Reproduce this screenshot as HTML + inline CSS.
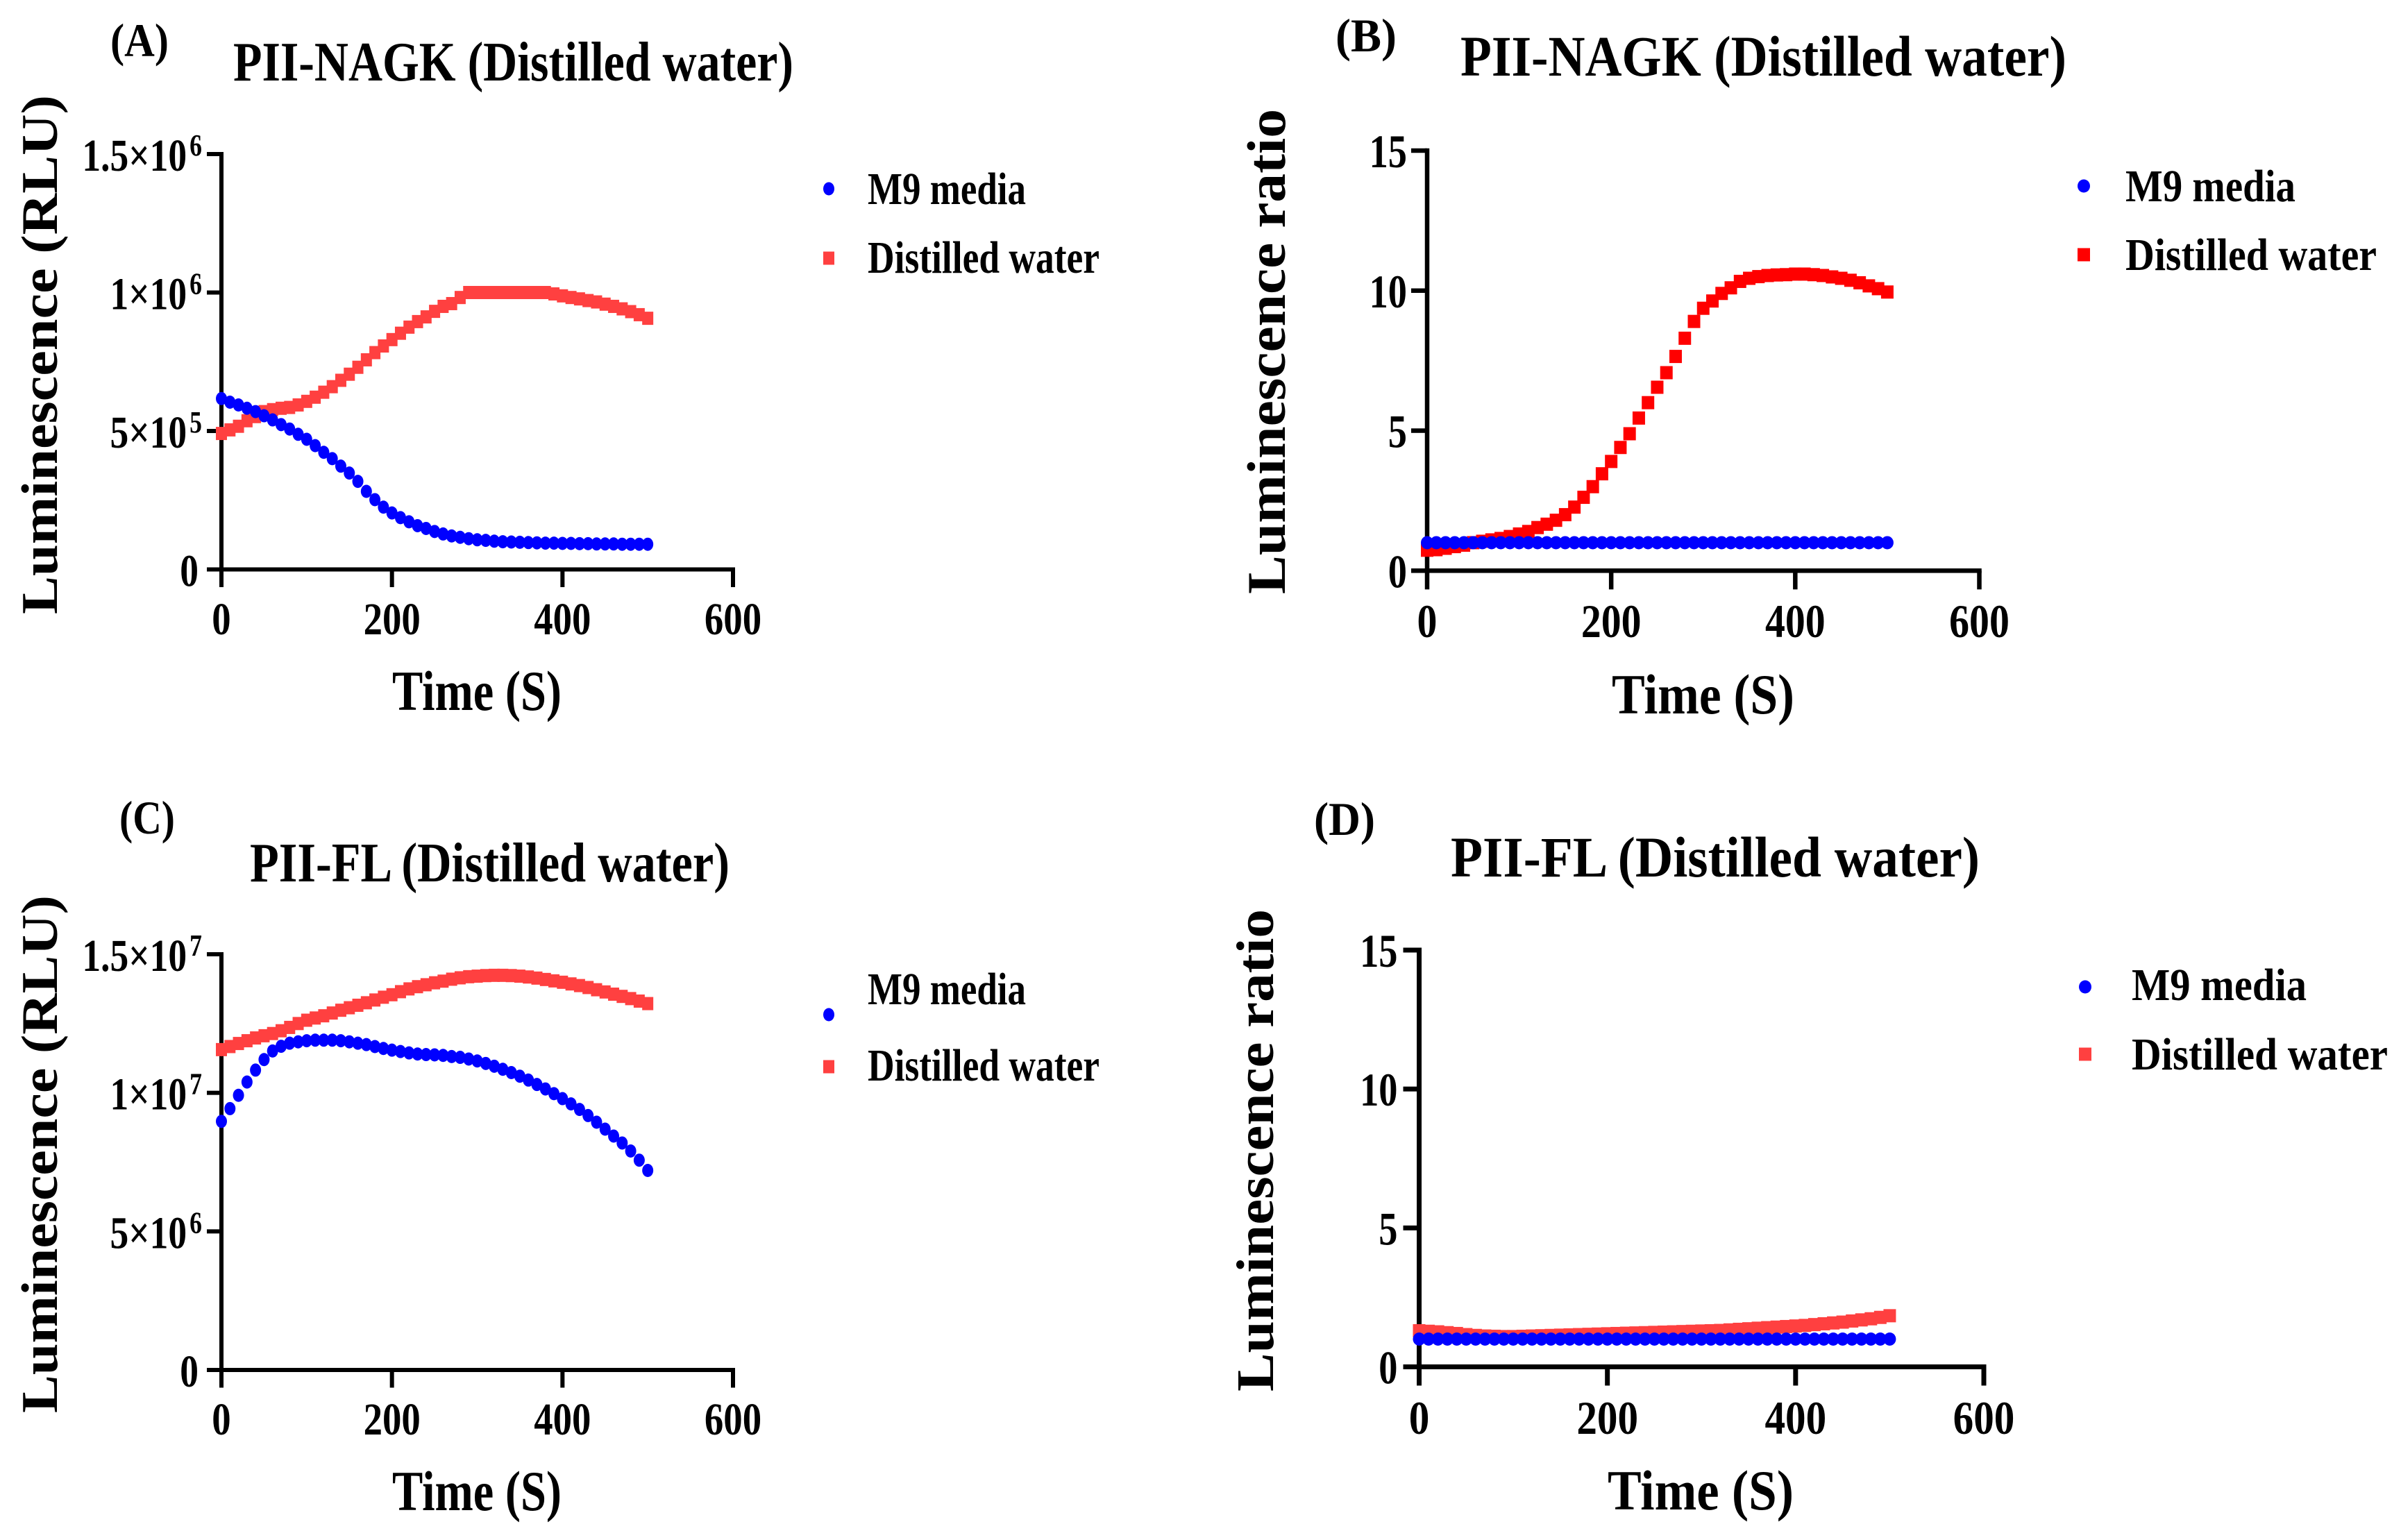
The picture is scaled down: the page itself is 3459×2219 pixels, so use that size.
<!DOCTYPE html>
<html lang="en">
<head>
<meta charset="utf-8">
<title>PII-NAGK and PII-FL luminescence in distilled water</title>
<style>
html,body{margin:0;padding:0;background:#fff;width:3459px;height:2219px;overflow:hidden}
svg{display:block}
text{font-family:"Liberation Serif",serif;font-weight:700;fill:#000}
</style>
</head>
<body>
<svg id="figure" xmlns="http://www.w3.org/2000/svg" width="3459" height="2219" viewBox="0 0 3459 2219">
<rect x="0" y="0" width="3459" height="2219" fill="#fff"/>

<text x="159" y="81" font-size="68" textLength="84" lengthAdjust="spacingAndGlyphs">(A)</text>
<text x="336" y="116" font-size="81" textLength="807" lengthAdjust="spacingAndGlyphs">PII-NAGK (Distilled water)</text>
<text transform="translate(82,885) rotate(-90)" font-size="74" textLength="748" lengthAdjust="spacingAndGlyphs">Luminescence (RLU)</text>
<text x="565" y="1023" font-size="82" textLength="244" lengthAdjust="spacingAndGlyphs">Time (S)</text>
<text x="1250" y="294" font-size="66" textLength="228" lengthAdjust="spacingAndGlyphs">M9 media</text>
<text x="1250" y="393" font-size="66" textLength="334" lengthAdjust="spacingAndGlyphs">Distilled water</text>

<text x="1924" y="74" font-size="68" textLength="88" lengthAdjust="spacingAndGlyphs">(B)</text>
<text x="2104" y="109" font-size="83" textLength="873" lengthAdjust="spacingAndGlyphs">PII-NAGK (Distilled water)</text>
<text transform="translate(1851,856) rotate(-90)" font-size="78" textLength="699" lengthAdjust="spacingAndGlyphs">Luminescence ratio</text>
<text x="2322" y="1028" font-size="82" textLength="263" lengthAdjust="spacingAndGlyphs">Time (S)</text>
<text x="3062" y="290" font-size="66" textLength="245" lengthAdjust="spacingAndGlyphs">M9 media</text>
<text x="3062" y="389" font-size="66" textLength="362" lengthAdjust="spacingAndGlyphs">Distilled water</text>

<text x="172" y="1201" font-size="68" textLength="80" lengthAdjust="spacingAndGlyphs">(C)</text>
<text x="360" y="1270" font-size="81" textLength="691" lengthAdjust="spacingAndGlyphs">PII-FL (Distilled water)</text>
<text transform="translate(82,2036) rotate(-90)" font-size="74" textLength="746" lengthAdjust="spacingAndGlyphs">Luminescence (RLU)</text>
<text x="565" y="2176" font-size="82" textLength="244" lengthAdjust="spacingAndGlyphs">Time (S)</text>
<text x="1250" y="1447" font-size="66" textLength="228" lengthAdjust="spacingAndGlyphs">M9 media</text>
<text x="1250" y="1557" font-size="66" textLength="334" lengthAdjust="spacingAndGlyphs">Distilled water</text>

<text x="1893" y="1203" font-size="68" textLength="88" lengthAdjust="spacingAndGlyphs">(D)</text>
<text x="2090" y="1263" font-size="83" textLength="762" lengthAdjust="spacingAndGlyphs">PII-FL (Distilled water)</text>
<text transform="translate(1834,2005) rotate(-90)" font-size="76" textLength="695" lengthAdjust="spacingAndGlyphs">Luminescence ratio</text>
<text x="2316" y="2175" font-size="82" textLength="268" lengthAdjust="spacingAndGlyphs">Time (S)</text>
<text x="3071" y="1441" font-size="66" textLength="252" lengthAdjust="spacingAndGlyphs">M9 media</text>
<text x="3071" y="1541" font-size="66" textLength="369" lengthAdjust="spacingAndGlyphs">Distilled water</text>
</svg>

<script>
var timeSeconds = [0,10,20,30,40,50,60,70,80,90,100,110,120,130,140,150,160,170,180,190,200,210,220,230,240,250,260,270,280,290,300,310,320,330,340,350,360,370,380,390,400,410,420,430,440,450,460,470,480,490,500];
var xTickValues = [0,200,400,600];
var xTickLabels = ["0","200","400","600"];

var yTickValuesA = [0,500000,1000000,1500000];
var yTickLabelsA = ["0","5×10","1×10","1.5×10"];
var yTickExponentsA = ["","5","6","6"];
var yTickValuesB = [0,5,10,15];
var yTickLabelsB = ["0","5","10","15"];
var yTickExponentsB = ["","","",""];
var yTickValuesC = [0,5000000,10000000,15000000];
var yTickLabelsC = ["0","5×10","1×10","1.5×10"];
var yTickExponentsC = ["","6","7","7"];
var yTickValuesD = [0,5,10,15];
var yTickLabelsD = ["0","5","10","15"];
var yTickExponentsD = ["","","",""];

/* Panel A, units of RLU ×1e6 */
var m9MediaA = [.617,.604,.594,.582,.57,.555,.54,.523,.507,.488,.47,.447,.423,.40,.373,.348,.318,.282,.252,.225,.204,.187,.172,.158,.148,.137,.128,.121,.116,.111,.107,.105,.102,.100,.099,.098,.097,.096,.095,.095,.094,.094,.093,.093,.092,.092,.092,.091,.091,.091,.091];
var distilledWaterA = [.491,.504,.517,.537,.552,.57,.577,.582,.585,.594,.607,.622,.64,.66,.683,.705,.73,.757,.783,.807,.83,.853,.875,.895,.912,.932,.95,.96,.982,1,1,1,1,1,1,1,1,1,1,.995,.988,.982,.977,.971,.966,.958,.95,.941,.931,.92,.907];

/* Panel B, ratio */
var m9MediaB = [1,1,1,1,1,1,1,1,1,1,1,1,1,1,1,1,1,1,1,1,1,1,1,1,1,1,1,1,1,1,1,1,1,1,1,1,1,1,1,1,1,1,1,1,1,1,1,1,1,1,1];
var distilledWaterB = [.73,.75,.8,.86,.91,1,1.05,1.1,1.15,1.22,1.31,1.4,1.54,1.66,1.8,2,2.27,2.62,3,3.46,3.9,4.4,4.89,5.45,6,6.55,7.07,7.65,8.3,8.9,9.37,9.63,9.9,10.1,10.33,10.44,10.5,10.54,10.56,10.57,10.59,10.59,10.57,10.54,10.49,10.44,10.37,10.28,10.17,10.07,9.95];

/* Panel C, units of RLU ×1e7 */
var m9MediaC = [.897,.943,.991,1.039,1.082,1.12,1.151,1.168,1.179,1.184,1.188,1.19,1.19,1.19,1.188,1.184,1.179,1.174,1.167,1.16,1.154,1.149,1.144,1.14,1.138,1.137,1.135,1.131,1.128,1.122,1.115,1.106,1.096,1.085,1.073,1.06,1.046,1.03,1.014,.997,.979,.96,.94,.918,.894,.869,.844,.819,.79,.757,.72];
var distilledWaterC = [1.156,1.167,1.178,1.188,1.198,1.206,1.214,1.224,1.236,1.25,1.262,1.27,1.278,1.288,1.298,1.307,1.316,1.325,1.335,1.345,1.354,1.365,1.375,1.383,1.39,1.397,1.403,1.41,1.415,1.419,1.421,1.423,1.424,1.424,1.423,1.421,1.418,1.414,1.409,1.404,1.399,1.393,1.387,1.38,1.372,1.364,1.356,1.348,1.34,1.331,1.322];

/* Panel D, ratio */
var m9MediaD = [1,1,1,1,1,1,1,1,1,1,1,1,1,1,1,1,1,1,1,1,1,1,1,1,1,1,1,1,1,1,1,1,1,1,1,1,1,1,1,1,1,1,1,1,1,1,1,1,1,1,1];
var distilledWaterD = [1.3,1.28,1.26,1.23,1.2,1.16,1.13,1.11,1.1,1.09,1.09,1.1,1.11,1.12,1.13,1.14,1.15,1.16,1.17,1.18,1.19,1.2,1.21,1.22,1.23,1.24,1.25,1.26,1.27,1.28,1.29,1.3,1.31,1.33,1.35,1.37,1.39,1.41,1.43,1.45,1.47,1.49,1.52,1.55,1.58,1.61,1.65,1.69,1.73,1.78,1.84];

var NS = "http://www.w3.org/2000/svg";
var svg = document.getElementById("figure");

function add(parent, tag, attrs) {
  var el = document.createElementNS(NS, tag);
  for (var k in attrs) el.setAttribute(k, attrs[k]);
  parent.appendChild(el);
  return el;
}

function drawPanel(p) {
  var g = add(svg, "g", {});
  
  
  var hw = p.lineWidth / 2;
  function xs(v) { return p.left + v / 600 * (p.right - p.left); }
  function yPos(v) { return p.bottom - (v * p.unit / p.yTop) * (p.bottom - p.top); }

  var yAxis = add(g, "rect", {x: p.left - hw, y: p.top - hw, width: p.lineWidth, height: p.bottom - p.top + hw, fill: "#000"});
  
  
  var xAxis = add(g, "rect", {x: p.left - hw, y: p.bottom - hw, width: p.right - p.left + p.lineWidth, height: p.lineWidth, fill: "#000"});
  
  

  p.xTicks.forEach(function (v, i) {
    var t = add(g, "rect", {x: xs(v) - hw, y: p.bottom, width: p.lineWidth, height: p.xTickLength, fill: "#000"});
    
    
    var l = add(g, "text", {"text-anchor": "middle", "font-size": p.labelFont, transform: "translate(" + xs(v) + "," + p.xLabelY + ") scale(" + p.xScale + ",1)"});
    
    
    l.textContent = xTickLabels[i];
  });

  p.yTicks.forEach(function (v, i) {
    var y = p.bottom - (v / p.yTop) * (p.bottom - p.top);
    var t = add(g, "rect", {x: p.left - p.yTickLength, y: y - hw, width: p.yTickLength, height: p.lineWidth, fill: "#000"});
    
    
    var gap = p.yExp[i] ? p.yLabelGap - 5 : p.yLabelGap;
    var l = add(g, "text", {"text-anchor": "end", "font-size": p.labelFont, transform: "translate(" + (p.left - gap) + "," + (y + 24) + ") scale(" + p.yScale + ",1)"});
    
    
    l.appendChild(document.createTextNode(p.yLabels[i]));
    if (p.yExp[i]) {
      var s = add(l, "tspan", {dx: 5, dy: -22, "font-size": 44});
      
      
      s.textContent = p.yExp[i];
    }
  });

  p.red.forEach(function (v, i) {
    var m = add(g, "rect", {x: xs(timeSeconds[i]) - p.markerHalf, y: yPos(v) - 9.5, width: p.markerHalf * 2, height: 19, fill: p.redColor});
    
    
  });
  p.blue.forEach(function (v, i) {
    var m = add(g, "ellipse", {cx: xs(timeSeconds[i]), cy: yPos(v), rx: p.markerHalf, ry: 9.5, fill: "#0000ff"});
    
    
  });

  var k1 = add(g, "ellipse", {cx: p.keyX, cy: p.keyY1, rx: p.markerHalf, ry: 9.5, fill: "#0000ff"});
  
  
  var k2 = add(g, "rect", {x: p.keyX - p.markerHalf, y: p.keyY2 - 9.5, width: p.markerHalf * 2, height: 19, fill: p.redColor});
  
  
}

drawPanel({id: "a", left: 319, right: 1056, top: 222, bottom: 820.5, yTop: 1500000, unit: 1000000,
  xTicks: xTickValues, yTicks: yTickValuesA, yLabels: yTickLabelsA, yExp: yTickExponentsA,
  red: distilledWaterA, blue: m9MediaA, redColor: "#ff4040", lineWidth: 6, xTickLength: 25.5, yTickLength: 21, markerHalf: 8,
  labelFont: 66, xLabelY: 914, xScale: 0.83, yScale: 0.81, yLabelGap: 33, keyX: 1194, keyY1: 272, keyY2: 372});
drawPanel({id: "b", left: 2056, right: 2851.5, top: 217, bottom: 822.3, yTop: 15, unit: 1,
  xTicks: xTickValues, yTicks: yTickValuesB, yLabels: yTickLabelsB, yExp: yTickExponentsB,
  red: distilledWaterB, blue: m9MediaB, redColor: "#ff0000", lineWidth: 6.5, xTickLength: 27, yTickLength: 23, markerHalf: 9,
  labelFont: 68, xLabelY: 918, xScale: 0.85, yScale: 0.8, yLabelGap: 29, keyX: 3002, keyY1: 268, keyY2: 367});
drawPanel({id: "c", left: 319, right: 1056, top: 1375, bottom: 1974, yTop: 15000000, unit: 10000000,
  xTicks: xTickValues, yTicks: yTickValuesC, yLabels: yTickLabelsC, yExp: yTickExponentsC,
  red: distilledWaterC, blue: m9MediaC, redColor: "#ff4040", lineWidth: 6, xTickLength: 25.5, yTickLength: 21, markerHalf: 8,
  labelFont: 66, xLabelY: 2067, xScale: 0.83, yScale: 0.81, yLabelGap: 33, keyX: 1194, keyY1: 1462, keyY2: 1537});
drawPanel({id: "d", left: 2044.5, right: 2858, top: 1369, bottom: 1969.5, yTop: 15, unit: 1,
  xTicks: xTickValues, yTicks: yTickValuesD, yLabels: yTickLabelsD, yExp: yTickExponentsD,
  red: distilledWaterD, blue: m9MediaD, redColor: "#ff4040", lineWidth: 7, xTickLength: 27, yTickLength: 23, markerHalf: 9,
  labelFont: 68, xLabelY: 2066, xScale: 0.87, yScale: 0.8, yLabelGap: 31, keyX: 3004, keyY1: 1422, keyY2: 1519});
</script>
</body>
</html>
